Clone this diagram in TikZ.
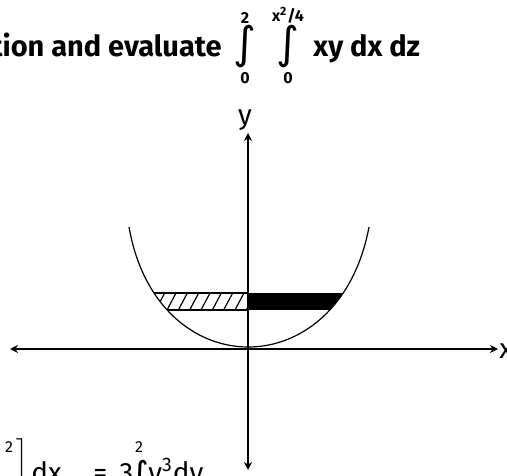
\documentclass[tikz,border=0pt]{standalone}
\usepackage{fontspec}
\setmainfont{Fira Sans}
\newfontfamily\symfont{DejaVu Sans}
\usetikzlibrary{arrows.meta,patterns.meta}

\begin{document}
\begin{tikzpicture}[
 x=0.5pt, y=-0.5pt,
 ax/.style={{Stealth[length=4pt,width=4pt]}-{Stealth[length=4pt,width=4pt]}, line width=0.75pt},
 txt/.style={font=\fontsize{14.5}{16}\selectfont\bfseries, inner sep=0pt},
 lim/.style={font=\fontsize{8}{9}\selectfont\bfseries, inner sep=0pt},
 intsign/.style={font=\symfont\fontsize{22}{22}\selectfont, inner sep=0pt},
 plain/.style={font=\fontsize{14}{16}\selectfont, inner sep=0pt},
 curve/.style={line width=0.6pt},
]
\useasboundingbox (0,0) rectangle (507,475);
% heading
\node[txt, anchor=base east] (head) at (222,57) {tion and evaluate};
\node[intsign] (int1) at (245,47) {∫};
\node[lim] (up1) at (245,18) {2};
\node[lim] (lo1) at (245,78) {0};
\node[intsign] (int2) at (288,47) {∫};
\node[lim] (up2) at (288,15) {x\textsuperscript{2}/4};
\node[lim] (lo2) at (288,78) {0};
\node[txt, anchor=base west] (fxy) at (313,57) {xy dx dz};

% axes
\coordinate (xl) at (10,349);
\coordinate (xr) at (498,349);
\coordinate (yt) at (248,133);
\coordinate (yb) at (248,470);
\draw[ax] (xl) -- (xr);
\draw[ax] (yb) -- (yt);
\node[plain] (ylab) at (245,120) {y};
\node[plain, anchor=west] (xlab) at (499,351) {x};

% curve and strips
\coordinate (pl) at (129,227);
\coordinate (pr) at (369,227);
\begin{scope}
 \clip (pl) .. controls (157,387) and (339,387) .. (pr) -- cycle;
 \fill[pattern={Lines[angle=62,distance=5pt,line width=0.6pt]}] (120,293) rectangle (248,310);
 \draw[curve] (120,293) rectangle (248,310);
 \fill (248,293) rectangle (380,310);
\end{scope}
\draw[curve] (pl) .. controls (157,387) and (339,387) .. (pr);

% bottom line
\node[lim, font=\fontsize{8}{9}\selectfont] (sq) at (9,447) {2};
\node[plain, anchor=north] (brk) at (22,438) {$\Bigg]$};
\node[plain, anchor=base west] (dx) at (31,482) {dx};
\node[plain, anchor=base west] (eq) at (93,482) {=\, 3};
\node[intsign, font=\symfont\fontsize{18}{18}\selectfont] (int3) at (140,478) {∫};
\node[lim, font=\fontsize{8}{9}\selectfont] (up3) at (139,447) {2};
\node[plain, anchor=base west] (fy) at (148,482) {y\textsuperscript{3}dy};
\end{tikzpicture}
\end{document}
